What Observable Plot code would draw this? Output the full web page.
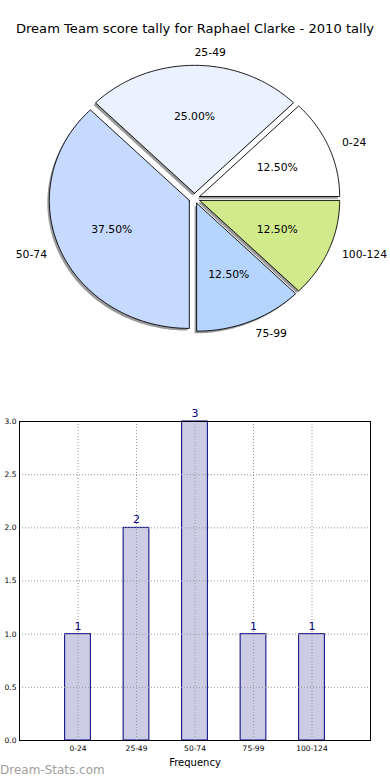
<!DOCTYPE html>
<html>
<head>
<meta charset="utf-8">
<script src="https://cdn.jsdelivr.net/npm/d3@7"></script>
<script src="https://cdn.jsdelivr.net/npm/@observablehq/plot@0.6"></script>
<style>
  html, body { margin: 0; padding: 0; background: #fff; }
  #wrap { position: relative; width: 390px; height: 780px; overflow: hidden; font-family: "DejaVu Sans", sans-serif; }
  #title { position: absolute; left: 0; width: 390px; top: 21px; text-align: center; font-size: 13.1px; color: #000; }
  #pie { position: absolute; left: 0; top: 40px; }
  #bar { position: absolute; left: 0; top: 400px; }
  #mark { position: absolute; left: 0px; top: 763px; font-size: 12px; color: #a0a0a0; }
  svg { font-family: "DejaVu Sans", sans-serif; }
</style>
</head>
<body>
<div id="wrap">
  <div id="title">Dream Team score tally for Raphael Clarke - 2010 tally</div>
  <div id="pie"></div>
  <div id="bar"></div>
  <div id="mark">Dream-Stats.com</div>
</div>
<script>
const categories = ["0-24", "25-49", "50-74", "75-99", "100-124"];
const counts = [1, 2, 3, 1, 1];
const sliceColors = ["#ffffff", "#eaf2ff", "#c6d9ff", "#b5d5ff", "#d0ea8c"];
const yTicks = [0, 0.5, 1, 1.5, 2, 2.5, 3];
const xAxisLabel = "Frequency";

// ---- Pie ----
const total = d3.sum(counts);
const explode = 0.04;
let acc = 0;
const slices = counts.map((c, i) => {
  const a0 = acc / total * 360; acc += c;
  const a1 = acc / total * 360;
  const mid = (a0 + a1) / 2 * Math.PI / 180;
  return {i, label: categories[i], color: sliceColors[i], a0, a1, mid,
          ox: explode * Math.cos(mid), oy: explode * Math.sin(mid),
          pct: (c / total * 100).toFixed(2) + "%"};
});
function poly(s, sx, sy) {
  const pts = [{k: s.i, x: s.ox + sx, y: s.oy + sy, color: s.color}];
  for (let a = s.a0; a <= s.a1 + 1e-9; a += 1) {
    const r = a * Math.PI / 180;
    pts.push({k: s.i, x: s.ox + sx + Math.cos(r), y: s.oy + sy + Math.sin(r), color: s.color});
  }
  pts.push({...pts[0]});
  return pts;
}
const slicePts = slices.flatMap(s => poly(s, 0, 0));
const shadowPts = slices.flatMap(s => poly(s, -2/140, -2.2/128));
const outerLabels = slices.map(s => ({
  x: s.ox + 1.1 * Math.cos(s.mid), y: s.oy + 1.1 * Math.sin(s.mid),
  text: s.label, left: Math.cos(s.mid) > 0
}));
const pctLabels = slices.map(s => ({
  x: s.ox + 0.6 * Math.cos(s.mid), y: s.oy + 0.6 * Math.sin(s.mid), text: s.pct
}));

const pie = Plot.plot({
  width: 390, height: 330, margin: 0,
  x: {domain: [-194/140, 196/140], axis: null},
  y: {domain: [1.234 - 330/128, 1.234], axis: null},
  color: {type: "identity"},
  marks: [
    Plot.line(shadowPts, {x: "x", y: "y", z: "k", fill: "#9a9a9a", stroke: "none"}),
    Plot.line(slicePts, {x: "x", y: "y", z: "k", fill: "color", stroke: "#000", strokeWidth: 0.9, strokeLinejoin: "miter"}),
    Plot.text(outerLabels.filter(d => d.left), {x: "x", y: "y", text: "text", textAnchor: "start", fontSize: 10.8, fill: "#000"}),
    Plot.text(outerLabels.filter(d => !d.left), {x: "x", y: "y", text: "text", textAnchor: "end", fontSize: 10.8, fill: "#000"}),
    Plot.text(pctLabels, {x: "x", y: "y", text: "text", fontSize: 10.8, fill: "#000"})
  ]
});
document.getElementById("pie").append(pie);

// ---- Bar ----
const bars = categories.map((c, i) => ({i, c, v: counts[i]}));
const bar = Plot.plot({
  width: 390, height: 370,
  marginTop: 21, marginBottom: 30, marginLeft: 19, marginRight: 20,
  x: {domain: [-1, 5]},
  y: {domain: [0, 3]},
  marks: [
    Plot.rect(bars, {x1: d => d.i - 0.22, x2: d => d.i + 0.22, y1: 0, y2: "v", fill: "#ccccE5", stroke: "#000080", strokeWidth: 1}),
    Plot.gridX(bars.map(d => d.i), {stroke: "#999", strokeOpacity: 1, strokeDasharray: "1,2"}),
    Plot.gridY(yTicks, {stroke: "#999", strokeOpacity: 1, strokeDasharray: "1,2"}),
    Plot.text(bars, {x: "i", y: "v", text: d => String(d.v), dy: -8, fill: "#000080", fontSize: 11}),
    Plot.axisX(bars.map(d => d.i), {tickSize: 0, tickPadding: 5, tickFormat: i => categories[i], fontSize: 7.5, label: null}),
    Plot.axisY(yTicks, {tickSize: 0, tickPadding: 3, tickFormat: d3.format(".1f"), fontSize: 7.5, label: null}),
    Plot.text([xAxisLabel], {frameAnchor: "bottom", dy: 25, text: d => d, fontSize: 10, fill: "#000"}),
    Plot.frame({stroke: "#000", strokeWidth: 1})
  ]
});
document.getElementById("bar").append(bar);
</script>
</body>
</html>
